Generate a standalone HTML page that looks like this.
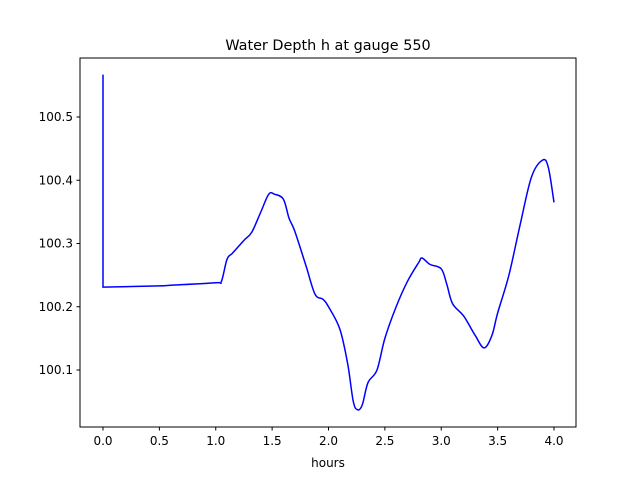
<!DOCTYPE html>
<html><head><meta charset="utf-8"><style>
body{margin:0;background:#fff;font-family:"Liberation Sans","DejaVu Sans",sans-serif}
svg text{font-family:"DejaVu Sans","Liberation Sans",sans-serif;font-size:12px;fill:#000}
</style></head><body>
<svg id="chart" width="640" height="480" xmlns="http://www.w3.org/2000/svg">
<rect width="640" height="480" fill="#fff"/>
<text x="328" y="50" text-anchor="middle" style="font-size:14.4px">Water Depth h at gauge 550</text>
<text x="328" y="467" text-anchor="middle">hours</text>
<g id="plot"></g>
<rect x="80" y="58" width="496" height="369" fill="none" stroke="#000" stroke-width="1"/>
</svg>
<script>
const times=[0,0,0.5,0.6,1.0,1.05,1.1,1.15,1.25,1.32,1.4,1.47,1.52,1.6,1.65,1.7,1.8,1.88,1.95,2.0,2.1,2.17,2.22,2.26,2.3,2.35,2.43,2.5,2.6,2.7,2.8,2.83,2.9,3.0,3.05,3.1,3.2,3.3,3.38,3.45,3.5,3.6,3.7,3.8,3.9,3.95,4.0];
const depths=[100.567,100.231,100.233,100.234,100.238,100.24,100.275,100.285,100.305,100.318,100.35,100.378,100.378,100.37,100.34,100.32,100.265,100.22,100.212,100.2,100.165,100.11,100.05,100.037,100.045,100.08,100.1,100.15,100.2,100.24,100.27,100.277,100.267,100.26,100.235,100.205,100.185,100.155,100.135,100.155,100.19,100.25,100.33,100.405,100.432,100.42,100.365];
const xTicks=[0,0.5,1.0,1.5,2.0,2.5,3.0,3.5,4.0];
const xTickLabels=["0.0","0.5","1.0","1.5","2.0","2.5","3.0","3.5","4.0"];
const yTicks=[100.1,100.2,100.3,100.4,100.5];
const yTickLabels=["100.1","100.2","100.3","100.4","100.5"];
const X=t=>103+t*112.75;
const Y=v=>117+(100.5-v)*632.5;
const g=document.getElementById('plot');
const NS="http://www.w3.org/2000/svg";
function mk(tag,attrs){const e=document.createElementNS(NS,tag);for(const k in attrs)e.setAttribute(k,attrs[k]);g.appendChild(e);return e;}
xTicks.forEach((t,i)=>{
 const l=mk('line',{x1:X(t),x2:X(t),y1:427,y2:430.5,stroke:'#000'});
 
 
 const tx=mk('text',{x:X(t),y:445,'text-anchor':'middle'});tx.textContent=xTickLabels[i];
 
 
});
yTicks.forEach((v,i)=>{
 const l=mk('line',{x1:76.5,x2:80,y1:Y(v),y2:Y(v),stroke:'#000'});
 
 
 const tx=mk('text',{x:73,y:Y(v)+4,'text-anchor':'end'});tx.textContent=yTickLabels[i];
 
 
});
// smooth path (Catmull-Rom) except first vertical segment
const P=times.map((t,i)=>[X(t),Y(depths[i])]);
let d=`M${P[0][0]},${P[0][1]} L${P[1][0]},${P[1][1]}`;
for(let i=1;i<P.length-1;i++){
 const p0=P[Math.max(1,i-1)],p1=P[i],p2=P[i+1],p3=P[Math.min(P.length-1,i+2)];
 const c1=[p1[0]+(p2[0]-p0[0])/6,p1[1]+(p2[1]-p0[1])/6];
 const c2=[p2[0]-(p3[0]-p1[0])/6,p2[1]-(p3[1]-p1[1])/6];
 d+=` C${c1[0]},${c1[1]} ${c2[0]},${c2[1]} ${p2[0]},${p2[1]}`;
}
const path=mk('path',{d:d,fill:'none',stroke:'#0000ff','stroke-width':1.5});


</script>
</body></html>
